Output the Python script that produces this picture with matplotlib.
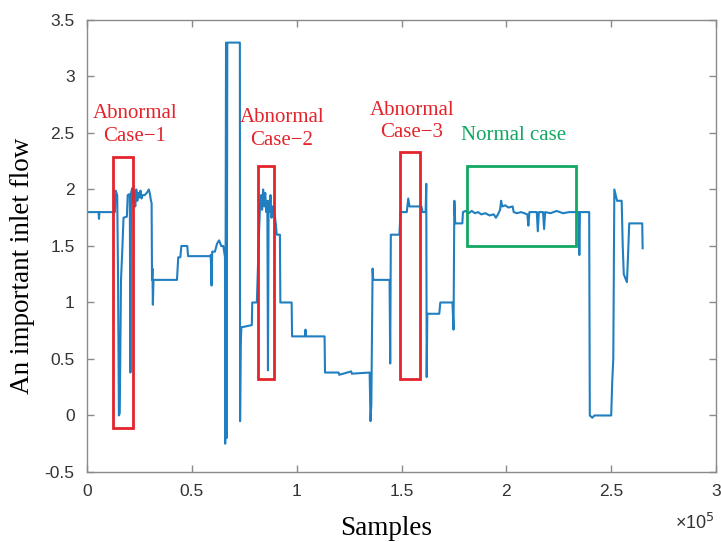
import matplotlib
matplotlib.use('Agg')

import matplotlib.pyplot as plt
from matplotlib.patches import Rectangle
from matplotlib.ticker import FuncFormatter, MultipleLocator

plt.rcParams['axes.unicode_minus'] = False

# flow trace (sample index, value)
samples = [0, 5500, 5700, 5900, 13300, 13600, 14400, 14800, 15200, 15600,
           16200, 16800, 17400, 19000, 19400, 20400, 20700, 21000,
           21500, 22000, 22500, 23000, 23500, 24000, 24500, 25000, 25500,
           26000, 26500, 27500, 28500, 29500, 30000, 30500, 30800,
           31000, 31200, 31400, 31700, 42900, 43500, 44500, 45000, 47800,
           48200, 58600, 59000, 59400, 59700, 61000, 62000, 63000, 64000,
           65000, 65800, 65900, 66300, 66600, 66900, 72900, 73000, 73300,
           73600, 78600, 78800, 81000, 81500, 82000, 82500, 83000,
           83500, 84000, 84500, 85000, 85500, 86000, 86300, 86600, 87000,
           87500, 88000, 88500, 89000, 89500, 90000, 90500, 92000, 92200,
           97600, 97800, 104000, 104200, 104400, 113300, 113500, 120000,
           120300, 126000, 126300, 134800, 135200, 135600, 136200, 136500,
           144300, 144600, 144900, 149000, 149500, 152500, 153200, 153800,
           159500, 160000, 161500, 161800, 162000, 162300, 168000, 168500,
           174300, 174800, 175200, 175600, 179000, 179300, 180500, 182000,
           183500, 185000, 186500, 188000, 190000, 192000, 194000, 195000,
           196000, 197000, 197500, 198000, 199500, 201000, 203000, 203500,
           205000, 207000, 210000, 210500,
           211000, 214500, 215000, 215500, 217500, 218000, 218500, 221000,
           224000, 227000, 230000, 234500,
           234800, 235100, 239500, 239800, 241000, 242000, 250000, 250500,
           251000, 251500, 252800, 255000, 255500, 256000, 257500, 258000,
           258600, 264800, 265000]
flow = [1.80, 1.80, 1.74, 1.80, 1.80, 1.99, 1.95, 1.20, 0.00, 0.02,
        1.20, 1.45, 1.75, 1.76, 1.95, 1.96, 0.38, 1.97,
        2.01, 1.88, 1.98, 1.85, 2.00, 1.90, 1.97, 1.93, 1.99,
        1.92, 1.95, 1.95, 1.97, 2.00, 1.96, 1.90, 1.88,
        1.20, 1.30, 0.98, 1.20, 1.20, 1.40, 1.40, 1.50, 1.50,
        1.41, 1.41, 1.42, 1.15, 1.45, 1.45, 1.52, 1.55, 1.50,
        1.50, 1.40, -0.25, 3.30, -0.20, 3.30, 3.30, -0.05, 0.62,
        0.78, 0.80, 1.00, 1.00, 1.30, 1.60, 1.85, 1.95,
        1.82, 2.00, 1.85, 1.97, 1.80, 1.90, 0.40, 1.90, 1.80,
        1.95, 1.75, 1.85, 1.80, 1.78, 1.70, 1.60, 1.60, 1.00,
        1.00, 0.70, 0.70, 0.76, 0.70, 0.70, 0.38, 0.38,
        0.36, 0.39, 0.37, 0.38, -0.05, 0.10, 1.30, 1.20,
        1.20, 0.46, 1.60, 1.60, 1.80, 1.80, 1.92, 1.85,
        1.85, 1.80, 1.80, 2.05, 0.34, 0.90, 0.90, 1.00,
        1.00, 0.76, 1.90, 1.70, 1.70, 1.80, 1.81, 1.79,
        1.81, 1.79, 1.80, 1.78, 1.79, 1.77, 1.78, 1.75,
        1.78, 1.82, 1.90, 1.85, 1.86, 1.84, 1.85, 1.80,
        1.79, 1.80, 1.78, 1.68,
        1.80, 1.80, 1.63, 1.80, 1.80, 1.65, 1.80, 1.79,
        1.81, 1.79, 1.80, 1.80,
        1.42, 1.80, 1.80, 0.00, -0.02, 0.00, 0.00, 0.30,
        0.50, 2.00, 1.90, 1.90, 1.50, 1.25, 1.18, 1.40,
        1.70, 1.70, 1.48]

# marked windows: (x0, x1, y0, y1)
abnormal_boxes = [(12500, 21700, -0.11, 2.29),
                  (81600, 89000, 0.32, 2.21),
                  (149500, 159000, 0.32, 2.33)]
normal_box = (181300, 233200, 1.50, 2.21)

abnormal_labels = ["Abnormal\nCase\u22121", "Abnormal\nCase\u22122", "Abnormal\nCase\u22123"]
abnormal_label_pos = [(22900, 2.57), (93000, 2.535), (155000, 2.60)]
normal_label = "Normal case"
normal_label_pos = (203300, 2.48)

line_col = '#1f7fc0'
red = '#e3242b'
green = '#12a862'
axis_col = '#8a8a8a'

fig = plt.figure(figsize=(7.21, 5.42), dpi=100)
ax = fig.add_axes([0.1207, 0.1292, 0.8724, 0.8339])

ax.plot(samples, flow, color=line_col, linewidth=1.5)

for (x0, x1, y0, y1) in abnormal_boxes:
    ax.add_patch(Rectangle((x0, y0), x1 - x0, y1 - y0, fill=False,
                           edgecolor=red, linewidth=2.0, zorder=3))
x0, x1, y0, y1 = normal_box
ax.add_patch(Rectangle((x0, y0), x1 - x0, y1 - y0, fill=False,
                       edgecolor=green, linewidth=2.0, zorder=3))

for txt, (tx, ty) in zip(abnormal_labels, abnormal_label_pos):
    ax.text(tx, ty, txt, color=red, family='Liberation Serif', fontsize=15,
            ha='center', va='center', linespacing=1.25)
ax.text(normal_label_pos[0], normal_label_pos[1], normal_label, color=green,
        family='Liberation Serif', fontsize=15, ha='center', va='center')

ax.set_xlim(0, 300000)
ax.set_ylim(-0.5, 3.5)
ax.xaxis.set_major_locator(MultipleLocator(50000))
ax.yaxis.set_major_locator(MultipleLocator(0.5))
ax.xaxis.set_major_formatter(FuncFormatter(lambda v, p: '%g' % (v / 1e5)))
ax.yaxis.set_major_formatter(FuncFormatter(lambda v, p: '%g' % v))

for s in ax.spines.values():
    s.set_color(axis_col)
    s.set_linewidth(1.0)
ax.tick_params(direction='in', length=5, width=1.0, color=axis_col,
               top=True, right=True, labelsize=12.5, labelcolor='#333333', pad=9)
for lab in ax.get_xticklabels() + ax.get_yticklabels():
    lab.set_family('Liberation Sans')

ax.set_xlabel('Samples', family='Liberation Serif', fontsize=19.5)
ax.set_ylabel('An important inlet flow', family='Liberation Serif', fontsize=19.5)
ax.xaxis.set_label_coords(0.476, -0.098)
ax.yaxis.set_label_coords(-0.082, 0.456)

ax.text(0.998, -0.112, '\u00d710$^5$', transform=ax.transAxes, fontsize=13,
        color='#333333', family='Liberation Sans', ha='right', va='center')

plt.savefig('out.png', dpi=100)
